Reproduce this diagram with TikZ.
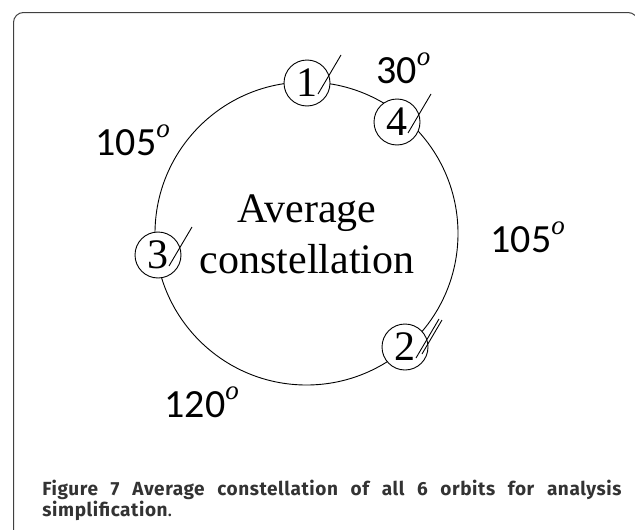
\documentclass[tikz,border=0pt]{standalone}
\usepackage{fontspec}
\setmainfont{Liberation Serif}
\newfontfamily\labelfont{Carlito}
\newfontfamily\capfont{Fira Sans}[LetterSpace=3]
\usetikzlibrary{calc}

\newcommand{\angdeg}[1]{{\labelfont\fontsize{40}{40}\selectfont #1}\raisebox{18pt}{\fontsize{27}{27}\selectfont\itshape o}}

\begin{document}
\begin{tikzpicture}[x=1pt,y=-1pt,line width=0.9pt,
		sat/.style={circle,draw,fill=white,minimum size=46pt,inner sep=0pt,font=\fontsize{42}{42}\selectfont},
		angle/.style={anchor=base west,inner sep=0pt}]
			\useasboundingbox (0,0) rectangle (635,530);
			\draw[black!75,line width=1pt,rounded corners=10pt] (13.5,545) -- (13.5,12.5) -- (638,12.5) -- (638,545);
			\draw (306.5,233.5) circle[radius=151.5pt];
			\node[sat] (s1) at (307,83) {1};
			\node[sat] (s4) at (397,122) {4};
			\node[sat] (s3) at (158,255) {3};
			\node[sat] (s2) at (405,347) {2};
			\foreach \s in {s1,s2,s3,s4}{ \draw ($(\s.center)+(11,11)$) -- ++(23,-39); }
			\draw ($(s2.center)+(17,7)$) -- ++(20,-34);
			\node[align=center,inner sep=0pt,font=\fontsize{42}{51}\selectfont] (avg) at (307,234) {Average\\constellation};
			\node[angle] (a30) at (376,83) {\angdeg{30}};
			\node[angle] (a105l) at (95,155) {\angdeg{105}};
			\node[angle] (a105r) at (490,252) {\angdeg{105}};
			\node[angle] (a120) at (164,417) {\angdeg{120}};
			\node[anchor=north west,inner sep=0pt,text width=579pt,align=justify,text=black!80,
				font=\capfont\fontsize{19}{21}\selectfont] (cap) at (42,480)
				{\textbf{Figure 7 Average constellation of all 6 orbits for analysis\linebreak simplification}.};
		\end{tikzpicture}
\end{document}
